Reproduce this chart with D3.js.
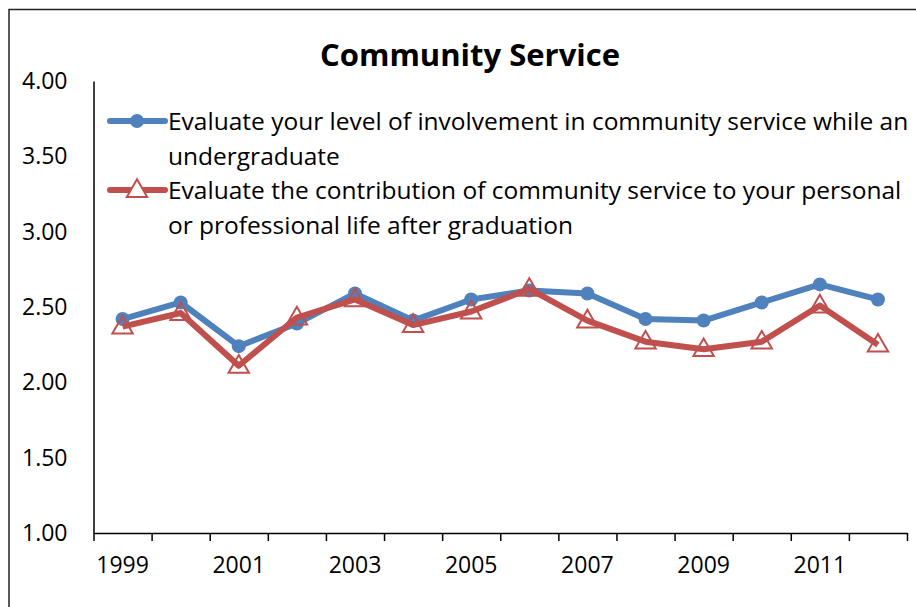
<!DOCTYPE html>
<html>
<head>
<meta charset="utf-8">
<script src="https://cdn.jsdelivr.net/npm/d3@7"></script>
<style>
  body { margin: 0; background: #fff; }
  svg { display: block; font-family: "Open Sans", sans-serif; }
</style>
</head>
<body>
<script>
// chart data
let years = ['1999','2000','2001','2002','2003','2004','2005','2006','2007','2008','2009','2010','2011','2012']
let involvement = [2.42, 2.53, 2.24, 2.39, 2.59, 2.41, 2.55, 2.61, 2.59, 2.42, 2.41, 2.53, 2.65, 2.55]
let contribution = [2.37, 2.46, 2.11, 2.43, 2.55, 2.38, 2.47, 2.62, 2.41, 2.27, 2.22, 2.27, 2.51, 2.25]
let yTicks = [1.0, 1.5, 2.0, 2.5, 3.0, 3.5, 4.0]
let xLabels = ['1999','2001','2003','2005','2007','2009','2011']
let seriesNames = [
    ['Evaluate your level of involvement in community service while an', 'undergraduate'],
    ['Evaluate the contribution of community service to your personal', 'or professional life after graduation']
]

let blue = '#4F81BD'
let red = '#C0504D'

let svg = d3.select('body').append('svg')
    .attr('width', 916)
    .attr('height', 607)

// outer chart border (only top and left show in the frame)
svg.append('path')
    .attr('d', 'M9,620 L9,9.5 L930,9.5')
    .attr('fill', 'none')
    .attr('stroke', '#222')
    .attr('stroke-width', 1.5)

// title
svg.append('text')
    .attr('x', 470)
    .attr('y', 66)
    .attr('text-anchor', 'middle')
    .attr('font-weight', 'bold')
    .attr('font-size', 31)
    .text('Community Service')

// scales
let xScale = d3.scaleBand()
    .domain(years)
    .range([93.5, 907])

let xEdge = d3.scaleLinear()
    .domain([0, years.length])
    .range([93.5, 907])

let yScale = d3.scaleLinear()
    .domain([1, 4])
    .range([533, 81])

let cx = function(d, i) { return xScale(years[i]) + xScale.bandwidth() / 2 }

// y axis
let yAxis = d3.axisLeft(yScale)
    .tickValues(yTicks)
    .tickFormat(d3.format('.2f'))
    .tickSize(0)
    .tickPadding(26)

let gy = svg.append('g')
    .attr('transform', 'translate(93.5,0)')
    .call(yAxis)
gy.select('.domain').attr('stroke', '#000').attr('stroke-width', 1.5)
gy.selectAll('text').attr('font-size', 23).attr('fill', '#000')
    .attr('font-family', '"Open Sans", sans-serif')

// x axis: tick marks at category edges
let xTickAxis = d3.axisBottom(xEdge)
    .tickValues(d3.range(years.length + 1))
    .tickFormat('')
    .tickSize(8)
    .tickSizeOuter(0)

let gx = svg.append('g')
    .attr('transform', 'translate(0,533)')
    .call(xTickAxis)
gx.select('.domain').attr('stroke', '#000').attr('stroke-width', 1.5)
gx.selectAll('.tick line').attr('stroke', '#000').attr('stroke-width', 1.5)

// x axis labels every other year at category centres
let xLabelAxis = d3.axisBottom(xScale)
    .tickValues(xLabels)
    .tickSize(0)
    .tickPadding(24)

let gxl = svg.append('g')
    .attr('transform', 'translate(0,533)')
    .call(xLabelAxis)
gxl.select('.domain').remove()
gxl.selectAll('text').attr('font-size', 23).attr('fill', '#000')
    .attr('font-family', '"Open Sans", sans-serif')

// lines
let line = d3.line()
    .x(cx)
    .y(function(d) { return yScale(d) })

svg.append('path')
    .datum(involvement)
    .attr('d', line)
    .attr('fill', 'none')
    .attr('stroke', blue)
    .attr('stroke-width', 6)
    .attr('stroke-linejoin', 'round')

svg.selectAll('.dot')
    .data(involvement)
    .enter()
    .append('circle')
        .attr('cx', cx)
        .attr('cy', function(d) { return yScale(d) })
        .attr('r', 7)
        .attr('fill', blue)

svg.append('path')
    .datum(contribution)
    .attr('d', line)
    .attr('fill', 'none')
    .attr('stroke', red)
    .attr('stroke-width', 6)
    .attr('stroke-linejoin', 'round')

let tri = d3.symbol().type(d3.symbolTriangle).size(180)

svg.selectAll('.tri')
    .data(contribution)
    .enter()
    .append('path')
        .attr('d', tri)
        .attr('transform', function(d, i) { return 'translate(' + cx(d, i) + ',' + (yScale(d) + 1) + ')' })
        .attr('fill', 'none')
        .attr('stroke', red)
        .attr('stroke-width', 2)

// legend
let legendY = [121, 190]
let legend = svg.append('g')

legend.append('line')
    .attr('x1', 110).attr('x2', 165)
    .attr('y1', legendY[0]).attr('y2', legendY[0])
    .attr('stroke', blue).attr('stroke-width', 6).attr('stroke-linecap', 'round')
legend.append('circle')
    .attr('cx', 137).attr('cy', legendY[0]).attr('r', 7).attr('fill', blue)

legend.append('line')
    .attr('x1', 110).attr('x2', 165)
    .attr('y1', legendY[1]).attr('y2', legendY[1])
    .attr('stroke', red).attr('stroke-width', 6).attr('stroke-linecap', 'round')
legend.append('path')
    .attr('d', tri)
    .attr('transform', 'translate(137,' + (legendY[1] + 1) + ')')
    .attr('fill', 'white')
    .attr('stroke', red)
    .attr('stroke-width', 2)

seriesNames.forEach(function(lines, k) {
    lines.forEach(function(t, j) {
        legend.append('text')
            .attr('x', 168)
            .attr('y', legendY[k] + 9 + j * 35)
            .attr('font-size', 24.5)
            .attr('fill', '#000')
            .text(t)
    })
})
</script>
</body>
</html>
